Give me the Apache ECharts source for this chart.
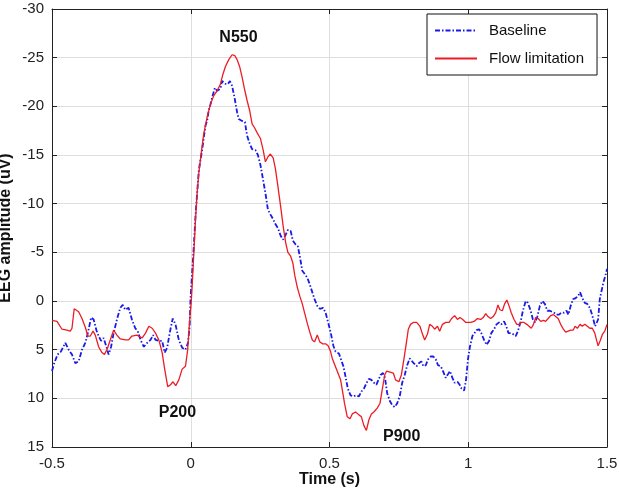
<!DOCTYPE html>
<html><head><meta charset="utf-8">
<script src="https://cdn.jsdelivr.net/npm/echarts@6/dist/echarts.min.js"></script>
<style>html,body{margin:0;padding:0;background:#fff}#c{width:619px;height:488px}</style>
</head><body><div id="c"></div>
<script>
// Baseline (blue dash-dot)
const baselineTime = [-0.5,-0.492,-0.48,-0.468,-0.452,-0.44,-0.428,-0.416,-0.404,-0.392,-0.38,-0.371,-0.359,-0.35,-0.34,-0.332,-0.323,-0.314,-0.304,-0.296,-0.287,-0.278,-0.266,-0.254,-0.245,-0.236,-0.224,-0.212,-0.2,-0.191,-0.181,-0.169,-0.157,-0.145,-0.136,-0.127,-0.115,-0.103,-0.094,-0.085,-0.076,-0.065,-0.055,-0.043,-0.031,-0.019,-0.01,-0.004,-0.001,0.005,0.011,0.017,0.023,0.029,0.035,0.041,0.047,0.053,0.059,0.065,0.071,0.077,0.087,0.095,0.101,0.107,0.113,0.119,0.125,0.134,0.141,0.149,0.159,0.167,0.173,0.185,0.195,0.203,0.212,0.221,0.233,0.242,0.251,0.261,0.269,0.278,0.287,0.297,0.305,0.314,0.324,0.333,0.342,0.35,0.36,0.368,0.378,0.386,0.393,0.402,0.41,0.42,0.429,0.438,0.446,0.456,0.465,0.477,0.486,0.495,0.504,0.514,0.522,0.534,0.55,0.558,0.566,0.576,0.586,0.594,0.606,0.615,0.624,0.634,0.642,0.651,0.66,0.669,0.676,0.684,0.693,0.7,0.708,0.718,0.726,0.735,0.744,0.753,0.762,0.771,0.78,0.789,0.796,0.804,0.814,0.822,0.831,0.838,0.847,0.855,0.865,0.874,0.883,0.891,0.901,0.909,0.919,0.925,0.934,0.943,0.951,0.961,0.969,0.976,0.985,0.992,0.999,1.006,1.015,1.03,1.039,1.047,1.057,1.066,1.075,1.083,1.093,1.102,1.111,1.119,1.129,1.137,1.145,1.153,1.161,1.171,1.179,1.189,1.197,1.207,1.215,1.225,1.233,1.241,1.249,1.258,1.267,1.276,1.285,1.294,1.301,1.309,1.318,1.327,1.336,1.345,1.354,1.361,1.369,1.378,1.387,1.396,1.403,1.411,1.42,1.429,1.438,1.444,1.451,1.457,1.463,1.468,1.474,1.48,1.487,1.496,1.5];
const baselineAmp = [7.2,6.4,5.5,5.2,4.3,5.0,5.5,6.4,6.2,5.0,4.3,3.3,1.7,1.9,3.0,3.6,4.1,3.8,4.7,5.5,4.7,3.3,1.9,0.7,0.4,0.9,0.7,1.9,2.8,3.1,4.0,4.7,4.3,4.0,3.5,4.0,4.1,4.1,5.3,4.8,3.3,1.8,2.4,4.0,4.8,5.0,4.3,2.6,-0.2,-2.9,-5.6,-8.7,-11.1,-13.4,-14.5,-15.5,-16.8,-18.0,-18.5,-19.6,-20.2,-20.9,-21.9,-21.6,-21.4,-21.8,-22.6,-22.8,-22.3,-22.3,-22.6,-22.1,-20.7,-19.4,-18.7,-18.5,-18.4,-17.0,-16.2,-15.6,-15.5,-15.0,-14.0,-12.4,-11.1,-9.4,-8.9,-8.4,-7.9,-7.5,-6.7,-6.3,-6.8,-7.3,-7.2,-6.2,-5.8,-5.6,-4.6,-3.1,-2.8,-2.4,-1.7,-0.9,-0.2,0.5,0.8,0.7,1.2,2.2,3.2,4.6,5.2,5.4,6.7,7.8,9.0,9.7,9.8,9.7,9.8,9.3,9.0,8.4,8.0,8.1,8.4,8.6,8.4,7.6,7.4,7.9,9.5,10.3,10.7,10.9,10.5,9.8,8.4,7.6,6.6,5.9,6.0,6.4,6.7,6.4,6.2,6.7,6.6,6.0,5.7,5.7,6.0,6.6,6.7,7.2,7.9,7.8,7.2,7.9,8.4,8.3,8.6,9.0,9.2,8.1,6.0,4.7,3.6,3.0,2.9,3.3,4.0,4.5,4.1,3.3,2.9,2.4,2.2,2.4,2.1,2.6,3.3,3.3,3.4,3.6,3.1,2.1,1.0,0.0,0.2,1.0,1.9,2.2,1.6,0.5,0.0,0.3,1.0,1.0,0.9,1.2,1.4,1.4,1.2,1.2,1.0,1.4,0.5,-0.2,-0.3,-0.5,-0.9,-0.3,0.2,0.3,0.7,1.2,1.9,2.6,2.8,1.9,-0.2,-1.0,-1.9,-2.8,-3.3];

// Flow limitation (red solid)
const flowTime = [-0.5,-0.482,-0.464,-0.446,-0.434,-0.428,-0.42,-0.416,-0.404,-0.392,-0.38,-0.371,-0.362,-0.352,-0.344,-0.332,-0.32,-0.311,-0.302,-0.29,-0.278,-0.266,-0.254,-0.236,-0.224,-0.212,-0.194,-0.175,-0.163,-0.151,-0.139,-0.127,-0.115,-0.103,-0.094,-0.083,-0.073,-0.064,-0.054,-0.043,-0.031,-0.019,-0.011,-0.004,0.002,0.005,0.011,0.017,0.023,0.029,0.039,0.047,0.059,0.071,0.083,0.095,0.107,0.116,0.125,0.137,0.149,0.159,0.167,0.176,0.185,0.195,0.203,0.212,0.221,0.23,0.239,0.251,0.261,0.269,0.278,0.287,0.297,0.305,0.314,0.324,0.333,0.342,0.35,0.36,0.368,0.375,0.384,0.393,0.402,0.41,0.42,0.429,0.438,0.446,0.456,0.465,0.475,0.486,0.495,0.504,0.51,0.54,0.546,0.554,0.564,0.574,0.582,0.594,0.606,0.615,0.624,0.633,0.642,0.651,0.66,0.672,0.682,0.69,0.699,0.706,0.718,0.73,0.738,0.75,0.759,0.768,0.777,0.784,0.792,0.802,0.814,0.826,0.835,0.843,0.853,0.861,0.871,0.879,0.889,0.897,0.907,0.919,0.931,0.94,0.951,0.961,0.97,0.98,0.991,1.009,1.021,1.033,1.045,1.054,1.063,1.071,1.081,1.09,1.099,1.107,1.114,1.123,1.131,1.139,1.147,1.155,1.165,1.175,1.183,1.191,1.201,1.211,1.219,1.227,1.235,1.243,1.252,1.261,1.271,1.279,1.288,1.297,1.307,1.315,1.324,1.333,1.343,1.351,1.36,1.369,1.378,1.385,1.393,1.403,1.411,1.42,1.429,1.438,1.447,1.456,1.463,1.468,1.475,1.484,1.492,1.5];
const flowAmp = [2.0,2.1,2.9,3.0,3.1,2.8,0.8,0.7,1.1,1.8,2.7,3.6,3.6,3.1,3.5,4.7,5.3,5.5,5.0,4.0,3.0,3.5,3.9,4.0,4.0,3.6,3.5,3.8,3.3,2.6,2.8,3.3,4.0,5.3,7.0,8.8,8.6,8.3,8.7,8.1,7.0,6.7,5.0,2.0,0.0,-1.5,-4.9,-8.3,-11.1,-13.1,-15.5,-17.2,-18.9,-20.2,-21.1,-21.6,-22.3,-23.3,-24.1,-24.8,-25.3,-25.2,-24.8,-24.1,-23.0,-21.6,-20.6,-19.6,-18.2,-17.8,-17.3,-16.7,-15.5,-14.3,-14.8,-15.1,-14.7,-13.6,-11.8,-9.7,-7.7,-6.0,-5.0,-4.6,-3.9,-2.6,-1.4,-0.5,0.3,1.2,2.3,3.2,4.0,4.2,3.5,4.2,4.4,4.4,4.6,5.2,5.9,8.1,9.1,10.5,11.9,12.1,11.6,11.4,11.7,11.9,12.8,13.3,12.2,11.6,11.4,11.0,10.5,9.1,7.6,7.2,7.3,7.4,8.1,8.3,7.6,6.0,4.3,2.9,2.4,2.2,2.2,2.6,3.4,4.0,3.4,2.4,2.6,2.9,2.6,3.1,2.4,2.2,2.2,1.8,1.5,1.9,1.7,1.9,2.2,2.2,2.1,1.8,1.9,1.7,1.3,1.6,1.8,1.6,1.2,0.4,0.9,1.0,0.3,-0.1,0.5,1.2,1.9,2.4,2.4,2.2,2.2,2.4,2.6,2.8,2.4,1.7,1.8,2.1,2.0,2.1,1.8,1.5,1.4,1.6,1.8,2.4,2.9,3.2,3.1,3.0,3.0,2.6,2.8,2.4,2.6,2.4,2.6,2.8,2.8,3.3,4.1,4.6,4.1,3.4,3.1,2.4];

// Peak annotations
const peakNames = ['N550', 'P200', 'P900'];
const peakTime = [0.172, -0.048, 0.76];
const peakAmp = [-27.05, 11.5, 13.95];

// Axis ranges
const xMin = -0.5, xMax = 1.5, xStep = 0.5;
const yMin = -30, yMax = 15, yStep = 5;

const FONT = '"Liberation Sans", Arial, Helvetica, sans-serif';
const chart = echarts.init(document.getElementById('c'), null, {renderer: 'canvas'});

const axisCommon = {
  axisLine: {show: true, onZero: false, lineStyle: {color: '#222', width: 1}},
  axisTick: {show: true, inside: true, length: 5, lineStyle: {color: '#222'}},
};

chart.setOption({
  animation: false,
  backgroundColor: '#fff',
  textStyle: {fontFamily: FONT},
  grid: {left: 52, right: 12, top: 9, bottom: 41, containLabel: false, outerBoundsMode: 'none'},
  legend: {
    data: ['Baseline', 'Flow limitation'],
    orient: 'vertical', left: 427, top: 14,
    padding: [9, 13, 9, 7], itemWidth: 42, itemHeight: 14, itemGap: 13,
    backgroundColor: '#fff', borderColor: '#111', borderWidth: 1, borderRadius: 0,
    itemStyle: {opacity: 0, borderWidth: 0},
    textStyle: {fontSize: 15, color: '#111', fontFamily: FONT, padding: [0, 0, 0, 7]}
  },
  xAxis: [
    Object.assign({
      type: 'value', min: xMin, max: xMax, interval: xStep, position: 'bottom',
      name: 'Time (s)', nameLocation: 'middle', nameGap: 25, nameMoveOverlap: false,
      nameTextStyle: {fontSize: 16, fontWeight: 'bold', color: '#111', fontFamily: FONT},
      axisLabel: {fontSize: 15, color: '#222', margin: 9, fontFamily: FONT},
      splitLine: {show: true, lineStyle: {color: '#dedede', width: 1}}
    }, axisCommon),
    Object.assign({
      type: 'value', min: xMin, max: xMax, interval: xStep, position: 'top',
      axisLabel: {show: false}, splitLine: {show: false}
    }, axisCommon)
  ],
  yAxis: [
    Object.assign({
      type: 'value', min: yMin, max: yMax, interval: yStep, inverse: true, position: 'left',
      name: 'EEG amplitude (uV)', nameLocation: 'middle', nameGap: 38, nameMoveOverlap: false,
      nameTextStyle: {fontSize: 16, fontWeight: 'bold', color: '#111', fontFamily: FONT},
      axisLabel: {fontSize: 15, color: '#222', margin: 8, fontFamily: FONT},
      splitLine: {show: true, lineStyle: {color: '#dedede', width: 1}}
    }, axisCommon),
    Object.assign({
      type: 'value', min: yMin, max: yMax, interval: yStep, inverse: true, position: 'right',
      axisLabel: {show: false}, splitLine: {show: false}
    }, axisCommon)
  ],
  series: [
    {
      name: 'Baseline', type: 'line', xAxisIndex: 0, yAxisIndex: 0,
      data: baselineTime.map((t, i) => [t, baselineAmp[i]]),
      symbol: 'none', showSymbol: false,
      lineStyle: {color: '#1a1ae6', width: 1.8, type: [5, 2, 1.5, 2]},
      itemStyle: {color: '#1a1ae6'}
    },
    {
      name: 'Flow limitation', type: 'line', xAxisIndex: 0, yAxisIndex: 0,
      data: flowTime.map((t, i) => [t, flowAmp[i]]),
      symbol: 'none', showSymbol: false,
      lineStyle: {color: '#ec1c24', width: 1.3},
      itemStyle: {color: '#ec1c24'}
    },
    {
      name: 'peaks', type: 'scatter', xAxisIndex: 0, yAxisIndex: 0, silent: true, z: 5,
      data: peakNames.map((n, i) => ({name: n, value: [peakTime[i], peakAmp[i]]})),
      symbolSize: 1, itemStyle: {color: 'transparent', opacity: 1},
      label: {show: true, position: 'inside', formatter: '{b}', fontSize: 16, fontWeight: 'bold', color: '#111', fontFamily: FONT}
    }
  ]
});
</script>
</body></html>
